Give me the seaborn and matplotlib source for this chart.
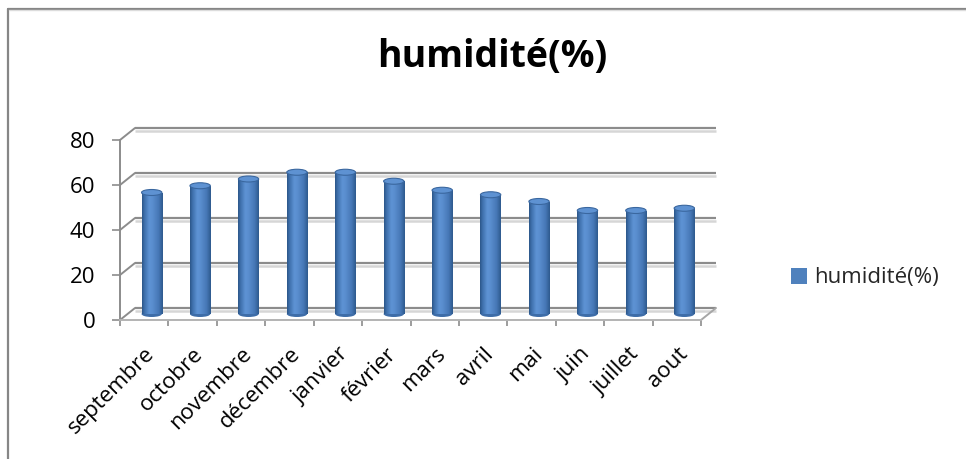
import numpy as np
import pandas as pd
import matplotlib
matplotlib.use("Agg")
import matplotlib.pyplot as plt
import matplotlib.transforms as mtransforms
from matplotlib.patches import Ellipse, Patch
from matplotlib.lines import Line2D
from matplotlib.colors import LinearSegmentedColormap
import seaborn as sns

# Humidité relative moyenne par mois (%)
mois = ["septembre", "octobre", "novembre", "décembre", "janvier", "février",
        "mars", "avril", "mai", "juin", "juillet", "aout"]
humidite = [54, 57, 60, 63, 63, 59, 55, 53, 50, 46, 46, 47]
graduations = [0, 20, 40, 60, 80]
titre = "humidité(%)"
serie = "humidité(%)"

sns.set_style("white")
plt.rcParams["font.family"] = ["Open Sans", "DejaVu Sans"]

W, H, DPI = 966, 459, 100
fig = plt.figure(figsize=(W / DPI, H / DPI), dpi=DPI)
fig.patch.set_facecolor("white")

# front plane of the 3-D frame, in pixels: x 120..701, y 140..320
AX_L, AX_R, AX_T, AX_B = 120, 701, 140, 320
ax = fig.add_axes([AX_L / W, 1 - AX_B / H, (AX_R - AX_L) / W, (AX_B - AX_T) / H])
ax.set_facecolor("none")

df = pd.DataFrame({"mois": mois, "humidite": humidite})
sns.barplot(data=df, x="mois", y="humidite", color="#4F81BD", saturation=1,
            width=0.42, ax=ax, zorder=3)

XMIN, XMAX, YMIN, YMAX = -0.5, len(mois) - 0.5, 0, 80
ax.set_xlim(XMIN, XMAX)
ax.set_ylim(YMIN, YMAX)

# pixel -> data conversion for the depth of the 3-D box
px_x = (XMAX - XMIN) / (AX_R - AX_L)
px_y = (YMAX - YMIN) / (AX_B - AX_T)
DEPTH_X, DEPTH_Y = 15, 12          # back wall offset, px
dxd, dyd = DEPTH_X * px_x, DEPTH_Y * px_y


def shifted(dx, dy):
    return ax.transData + mtransforms.ScaledTranslation(dx / DPI, dy / DPI, fig.dpi_scale_trans)


wall = shifted(DEPTH_X, DEPTH_Y)
mid = shifted(DEPTH_X / 2, DEPTH_Y / 2)
wall_shadow = shifted(DEPTH_X, DEPTH_Y - 2.5)

GRID = "#8c8c8c"
GRID_LIGHT = "#d6d6d6"

# back wall gridlines and side wall diagonals
for g in graduations:
    ax.plot([XMIN, XMAX], [g, g], transform=wall_shadow, color=GRID_LIGHT, lw=1.8,
            clip_on=False, zorder=1, solid_capstyle="butt")
    ax.plot([XMIN, XMAX], [g, g], transform=wall, color=GRID, lw=1.6,
            clip_on=False, zorder=1.2, solid_capstyle="butt")
    ax.plot([XMIN, XMIN + dxd], [g, g + dyd], color=GRID, lw=1.4,
            clip_on=False, zorder=1.2)

# floor right edge
ax.plot([XMAX, XMAX + dxd], [0, dyd], color="#a6a6a6", lw=1.4, clip_on=False, zorder=1.2)

# cylinder shading
cyl = LinearSegmentedColormap.from_list(
    "cyl", [(0.0, "#2C5789"), (0.12, "#3F70AD"), (0.35, "#5E93D4"),
            (0.5, "#5A8ECF"), (0.8, "#4677B6"), (1.0, "#2E5A8E")])
grad = np.linspace(0, 1, 64).reshape(1, -1)
eh = 6 * px_y

for p in list(ax.patches):
    x0, w, h = p.get_x(), p.get_width(), p.get_height()
    cx = x0 + w / 2
    p.set_transform(mid)
    p.set_facecolor("none")
    p.set_linewidth(0)
    ax.add_patch(Ellipse((cx, 0), w, eh, transform=mid, facecolor="#3E6DA8",
                         edgecolor="none", zorder=2.9))
    im = ax.imshow(grad, cmap=cyl, aspect="auto", extent=[x0, x0 + w, 0, h],
                   transform=mid, zorder=3, interpolation="bilinear")
    im.set_clip_path(p)
    ax.add_patch(Ellipse((cx, h), w, eh, transform=mid, facecolor="#5E92D2",
                         edgecolor="#3A679F", lw=0.8, zorder=3.2))

ax.set_xlim(XMIN, XMAX)
ax.set_ylim(YMIN, YMAX)

# axes and ticks
for side in ["top", "right"]:
    ax.spines[side].set_visible(False)
ax.spines["left"].set_color(GRID)
ax.spines["left"].set_linewidth(1.4)
ax.spines["bottom"].set_color("#b3b3b3")
ax.spines["bottom"].set_linewidth(1.4)
ax.grid(False)

ax.set_yticks(graduations)
ax.set_yticklabels([str(g) for g in graduations])
ax.tick_params(axis="y", length=5.8, width=1.2, color=GRID, pad=12,
               labelsize=16, labelcolor="black", left=True)

ax.set_xticks(range(len(mois)))
ax.set_xticklabels(mois, rotation=45, ha="right", rotation_mode="anchor")
ax.set_xticks(np.arange(XMIN, XMAX + 0.01, 1), minor=True)
ax.tick_params(axis="x", which="major", length=0, pad=17, labelsize=16, labelcolor="black")
ax.tick_params(axis="x", which="minor", length=4.5, width=1.2, color=GRID, bottom=True)
ax.set_xlabel("")
ax.set_ylabel("")

# title and legend
fig.text(492 / W, 1 - 67 / H, titre, ha="center", va="baseline",
         fontsize=27, fontweight="bold", color="black")
fig.legend(handles=[Patch(facecolor="#4F81BD", edgecolor="none", label=serie)],
           loc="center left", bbox_to_anchor=(791 / W, 1 - 278 / H),
           frameon=False, fontsize=16, handlelength=0.7, handleheight=0.7,
           handletextpad=0.35, borderpad=0, borderaxespad=0)

# chart area border (left and top)
fig.add_artist(Line2D([7.5 / W, 7.5 / W], [0, 1 - 8.5 / H], transform=fig.transFigure,
                      color="#868686", lw=1.6))
fig.add_artist(Line2D([7.5 / W, 1], [1 - 8.5 / H, 1 - 8.5 / H], transform=fig.transFigure,
                      color="#868686", lw=1.6))
fig.add_artist(Line2D([8.5 / W, 1], [1 - 10 / H, 1 - 10 / H], transform=fig.transFigure,
                      color="#dcdcdc", lw=1.0))

fig.savefig("out.png", dpi=DPI, facecolor="white")
